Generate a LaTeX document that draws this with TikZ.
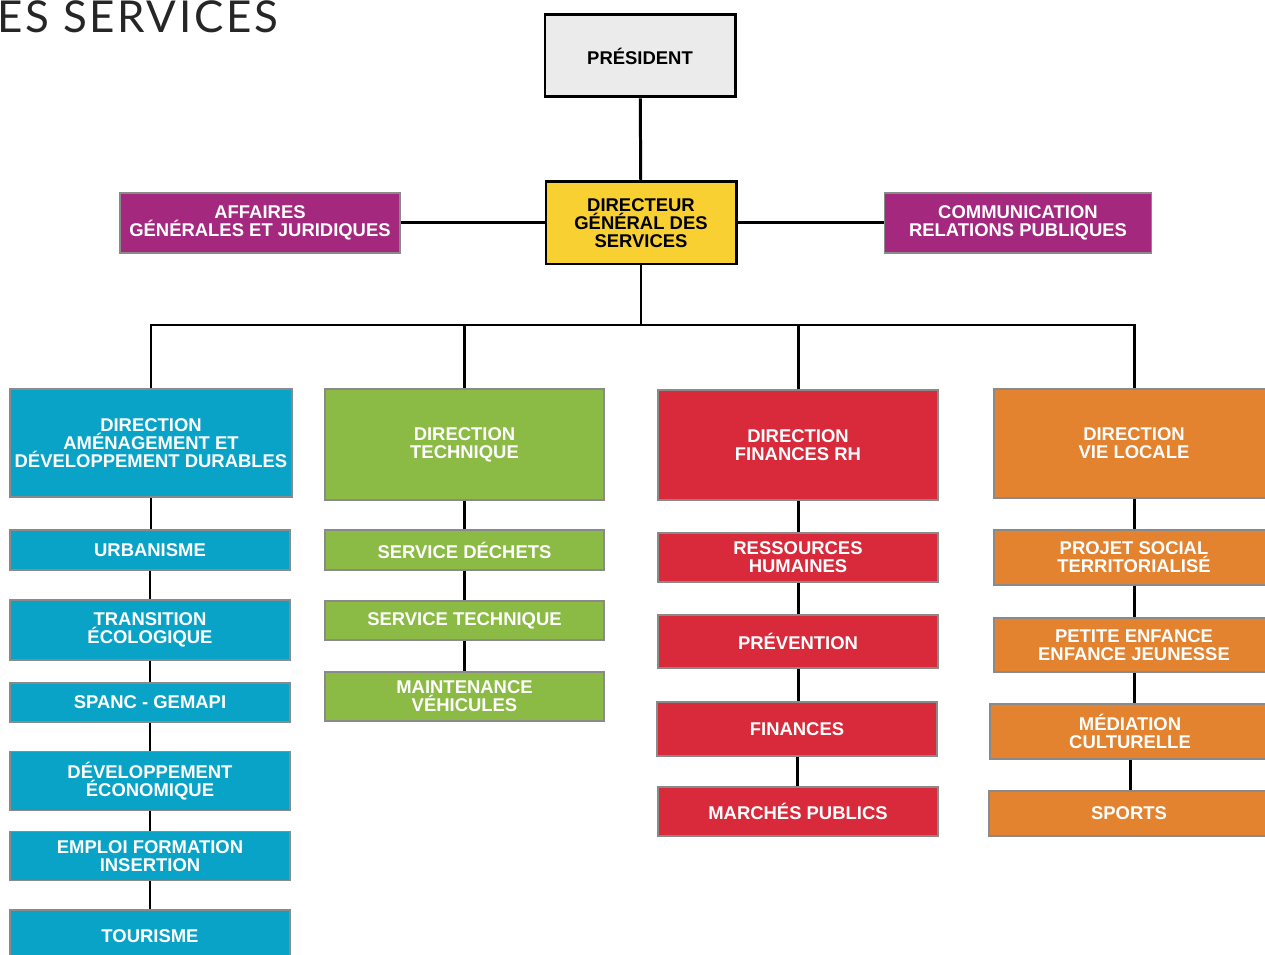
\documentclass[tikz,border=0pt]{standalone}
\usepackage{fontspec}
\setmainfont{Liberation Sans}
\newfontfamily\titlefont{Lato}[LetterSpace=6]
\usetikzlibrary{positioning}

\definecolor{grisP}{HTML}{EBEBEB}
\definecolor{jauneDGS}{HTML}{F8D032}
\definecolor{violet}{HTML}{A5287F}
\definecolor{bleuDA}{HTML}{0AA3C8}
\definecolor{vertDT}{HTML}{8BBB45}
\definecolor{rougeDF}{HTML}{D82A3B}
\definecolor{orangeVL}{HTML}{E3822F}
\definecolor{bordGris}{HTML}{8A8A8A}

\begin{document}
\begin{tikzpicture}[x=0.02cm, y=-0.02cm,
    lien/.style = {line width=1.7pt, black},
    boite/.style 2 args = {rectangle, inner sep=0pt, align=center,
        minimum width=#1*0.02cm, minimum height=#2*0.02cm,
        font=\fontsize{10.5}{10.2}\selectfont\bfseries},
    chef/.style = {draw=black, line width=1.7pt, text=black},
    service/.style = {draw=bordGris, line width=0.8pt, text=white}]
  \useasboundingbox (0,0) rectangle (1265,955);
  \clip (0,0) rectangle (1265,955);

  % titre coupe
  \node[anchor=west, inner sep=0pt, font=\titlefont\fontsize{25}{25}\selectfont, text=black!85] (titre) at (-3,17) {ES SERVICES};

  % haut de l'organigramme
  \node[boite={190}{82}, chef, fill=grisP] (pres) at (640,56) {PRÉSIDENT};
  \node[boite={190}{82}, chef, fill=jauneDGS] (dgs) at (641,223) {DIRECTEUR\\GÉNÉRAL DES\\SERVICES};
  \node[boite={280}{60}, service, fill=violet] (affaires) at (260,223) {AFFAIRES\\GÉNÉRALES ET JURIDIQUES};
  \node[boite={267}{60}, service, fill=violet] (comm) at (1018,223) {COMMUNICATION\\RELATIONS PUBLIQUES};

  \draw[lien] (pres) -- (dgs);
  \draw[lien] (affaires) -- (dgs);
  \draw[lien] (dgs) -- (comm);

  % directions
  \node[boite={282}{108}, service, fill=bleuDA] (dirA) at (151,443) {DIRECTION\\AMÉNAGEMENT ET\\DÉVELOPPEMENT DURABLES};
  \node[boite={279}{111}, service, fill=vertDT] (dirT) at (464.5,444.5) {DIRECTION\\TECHNIQUE};
  \node[boite={280}{110}, service, fill=rougeDF] (dirF) at (798,445) {DIRECTION\\FINANCES RH};
  \node[boite={280}{109}, service, fill=orangeVL] (dirV) at (1134,443.5) {DIRECTION\\VIE LOCALE};

  \coordinate (bus) at (641,325);
  \draw[lien] (dgs) -- (bus);
  \draw[lien] (dirA.north) |- (bus) -| (dirV.north);
  \draw[lien] (dirT.north) -- (dirT.north |- bus);
  \draw[lien] (dirF.north) -- (dirF.north |- bus);

  % services amenagement
  \node[boite={280}{40}, service, fill=bleuDA] (urba) at (150,550) {URBANISME};
  \node[boite={280}{60}, service, fill=bleuDA] (transi) at (150,630) {TRANSITION\\ÉCOLOGIQUE};
  \node[boite={280}{39}, service, fill=bleuDA] (spanc) at (150,702.5) {SPANC - GEMAPI};
  \node[boite={280}{59}, service, fill=bleuDA] (deveco) at (150,781) {DÉVELOPPEMENT\\ÉCONOMIQUE};
  \node[boite={280}{49}, service, fill=bleuDA] (emploi) at (150,856) {EMPLOI FORMATION\\INSERTION};
  \node[boite={280}{52}, service, fill=bleuDA] (tourisme) at (150,936) {TOURISME};

  % services techniques
  \node[boite={279}{40}, service, fill=vertDT] (dechets) at (464.5,550) {SERVICE DÉCHETS};
  \node[boite={279}{39}, service, fill=vertDT] (stech) at (464.5,620.5) {SERVICE TECHNIQUE};
  \node[boite={279}{49}, service, fill=vertDT] (mainten) at (464.5,696.5) {MAINTENANCE\\VÉHICULES};

  % services finances rh
  \node[boite={280}{49}, service, fill=rougeDF] (rh) at (798,557.5) {RESSOURCES\\HUMAINES};
  \node[boite={280}{53}, service, fill=rougeDF] (prev) at (798,641.5) {PRÉVENTION};
  \node[boite={280}{54}, service, fill=rougeDF] (fin) at (797,729) {FINANCES};
  \node[boite={280}{49}, service, fill=rougeDF] (marches) at (798,811.5) {MARCHÉS PUBLICS};

  % services vie locale
  \node[boite={280}{55}, service, fill=orangeVL] (projet) at (1134,557.5) {PROJET SOCIAL\\TERRITORIALISÉ};
  \node[boite={280}{54}, service, fill=orangeVL] (enfance) at (1134,645) {PETITE ENFANCE\\ENFANCE JEUNESSE};
  \node[boite={280}{55}, service, fill=orangeVL] (media) at (1130,731.5) {MÉDIATION\\CULTURELLE};
  \node[boite={280}{45}, service, fill=orangeVL] (sports) at (1129,813.5) {SPORTS};

  % liaisons verticales
  \foreach \a/\b in {dirA/urba, urba/transi, transi/spanc, spanc/deveco, deveco/emploi, emploi/tourisme,
                     dirT/dechets, dechets/stech, stech/mainten,
                     dirF/rh, rh/prev, prev/fin, fin/marches,
                     dirV/projet, projet/enfance, enfance/media, media/sports}
    \draw[lien] (\a.south) -- (\a.south |- \b.north);
\end{tikzpicture}
\end{document}
